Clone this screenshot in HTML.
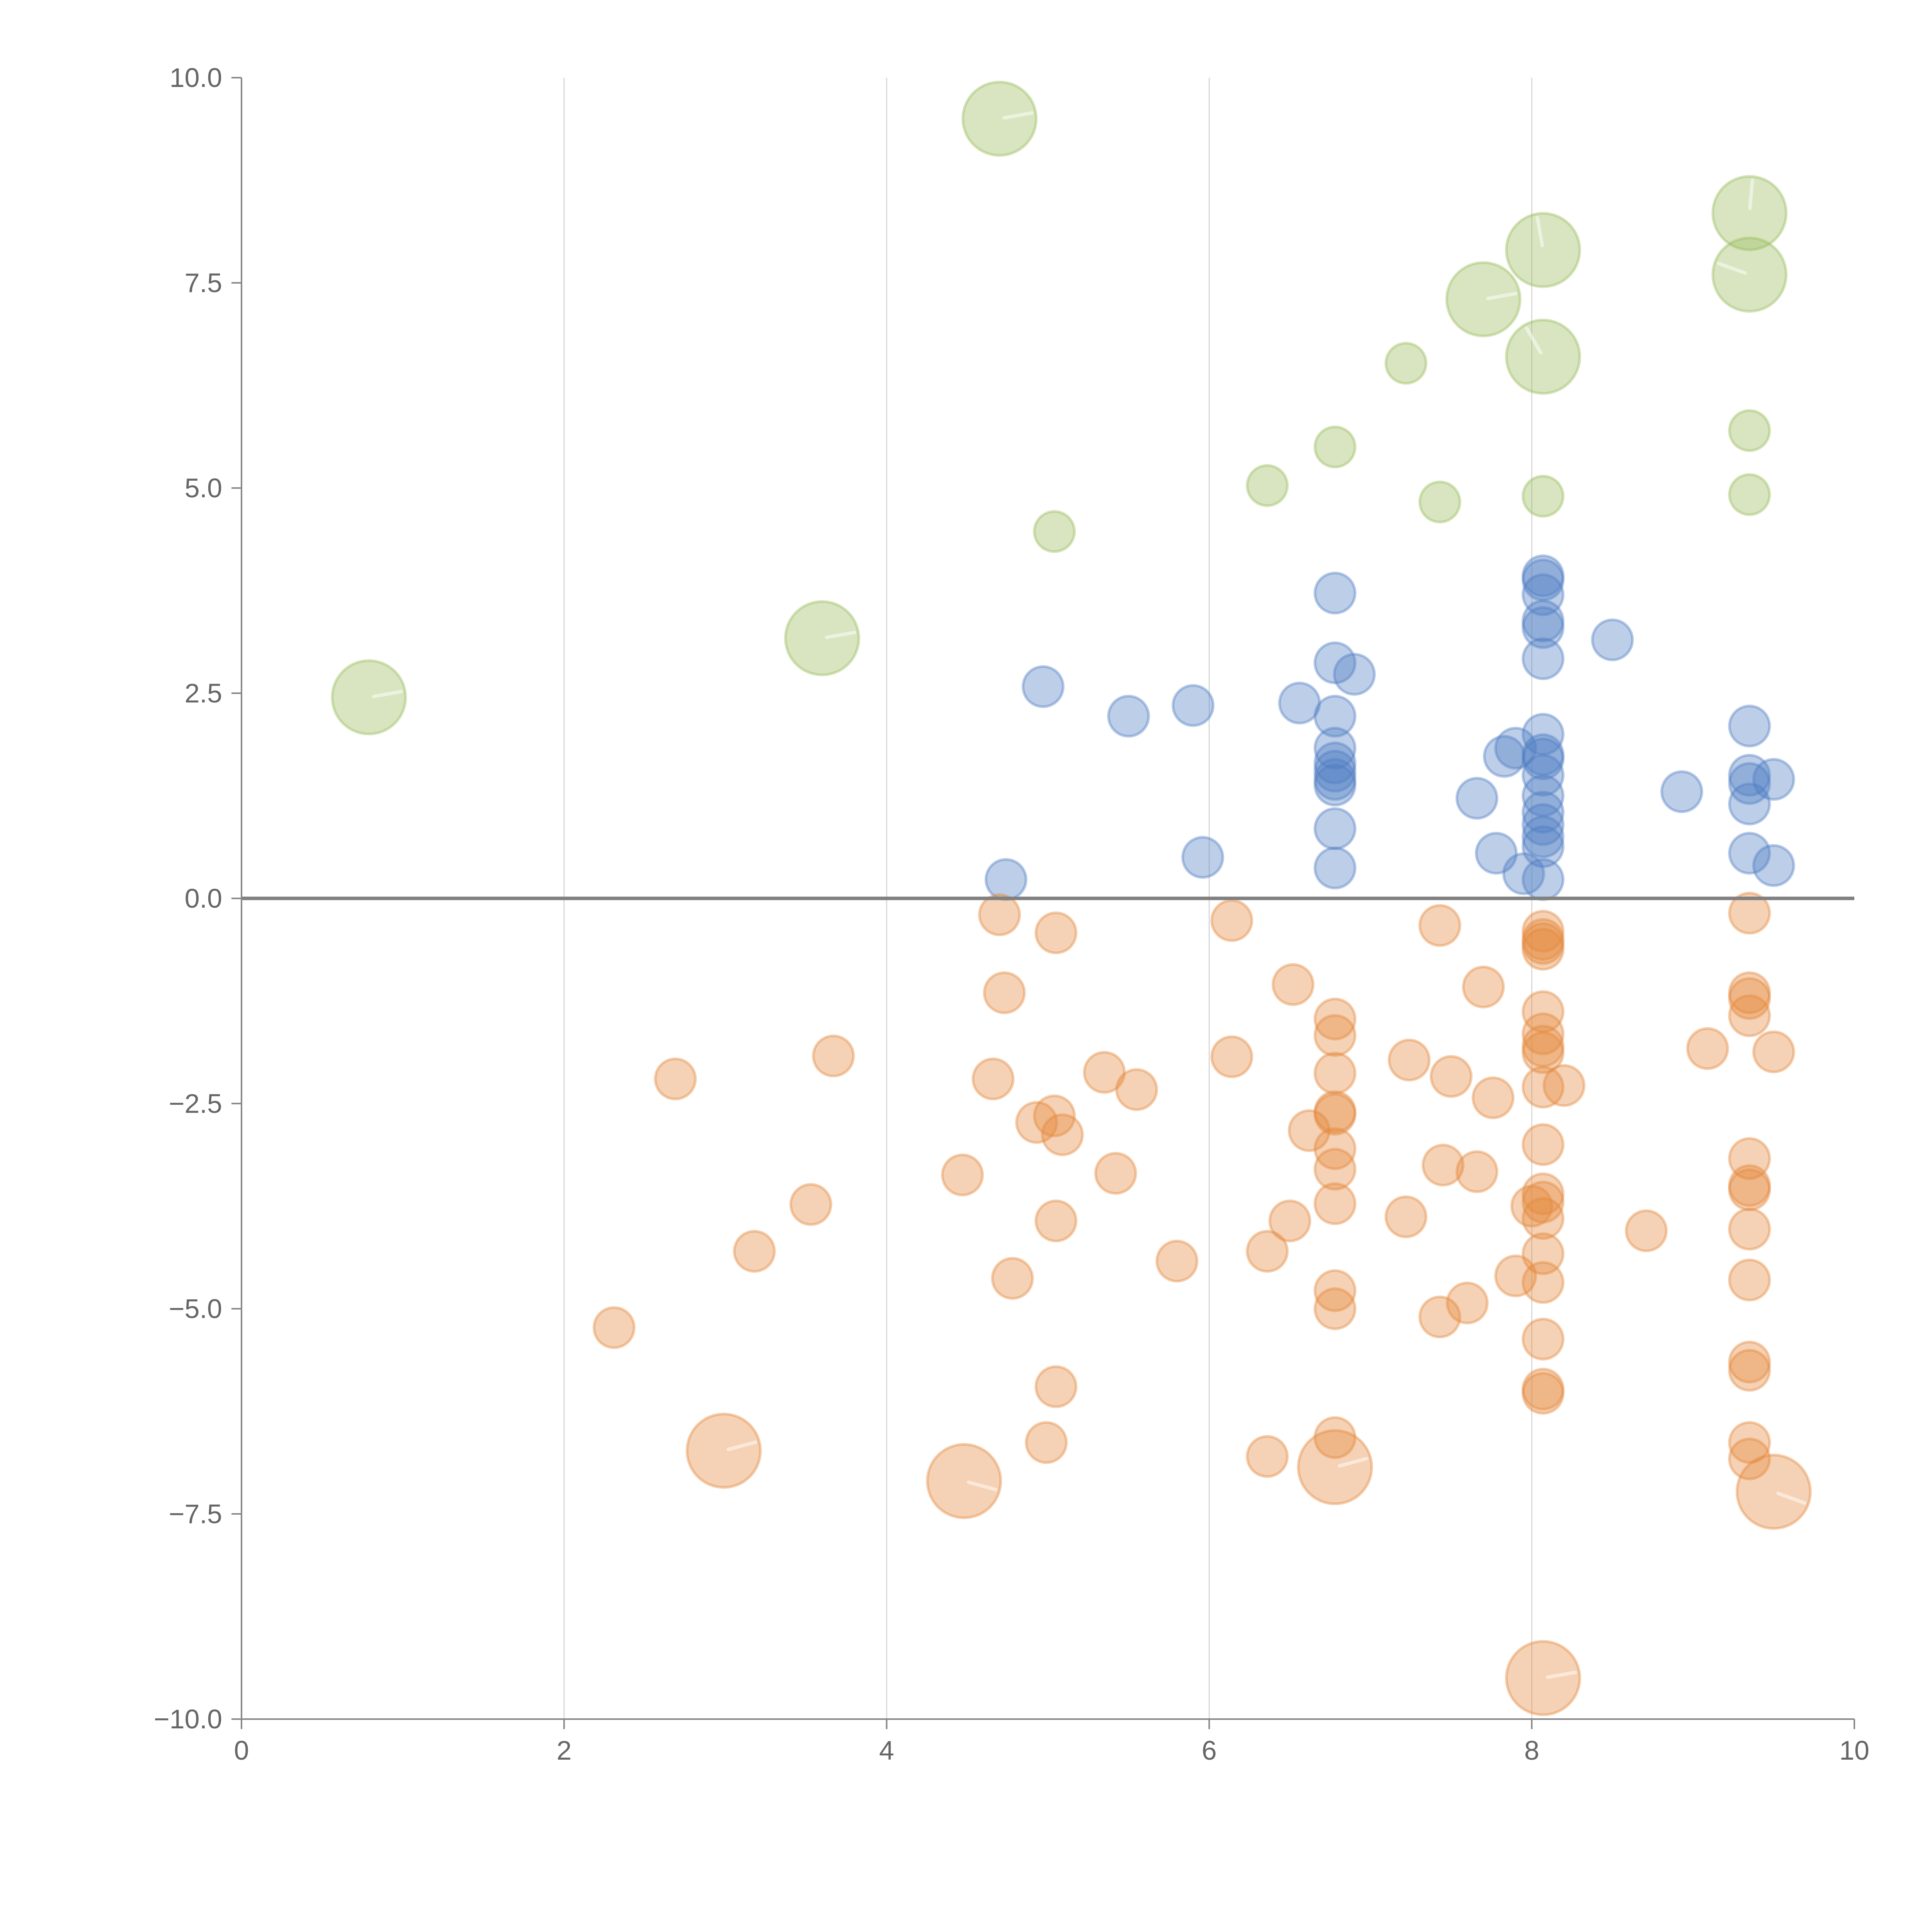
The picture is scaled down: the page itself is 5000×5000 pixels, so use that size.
<!DOCTYPE html>
<html><head><meta charset="utf-8"><style>body{margin:0;background:#fff}svg{display:block}text{font-family:"Liberation Sans",sans-serif;fill:#666;font-size:70px}</style></head>
<body>
<svg id="chart" width="5000" height="5000" viewBox="0 0 5000 5000" xmlns="http://www.w3.org/2000/svg">
<g id="grid"></g>
<g id="marks"></g>
<g id="axes"></g>
</svg>
<script>
const xTicks=[0,2,4,6,8,10];
const yTicks=[10,7.5,5,2.5,0,-2.5,-5,-7.5,-10];
const yTickLabels=["10.0","7.5","5.0","2.5","0.0","\u22122.5","\u22125.0","\u22127.5","\u221210.0"];
const greenX=[4.7,9.35,8.07,7.7,9.35,8.07,7.22,6.78,9.35,6.36,7.43,8.07,9.35,5.04,3.6,0.79];
const greenY=[9.5,8.35,7.9,7.3,7.6,6.6,6.52,5.5,5.7,5.03,4.83,4.9,4.92,4.47,3.17,2.45];
const greenBig=[1,1,1,1,1,1,0,0,0,0,0,0,0,0,1,1];
const blueX=[8.07,8.07,8.07,6.78,8.07,8.07,8.5,8.07,6.78,6.9,4.97,5.5,5.9,6.56,6.78,9.35,8.07,6.78,7.9,7.83,8.07,8.07,6.78,6.78,6.78,6.78,8.07,9.35,9.5,9.35,8.93,8.07,7.66,9.35,8.07,8.07,6.78,8.07,8.07,7.78,9.35,5.96,9.5,6.78,7.95,8.07,4.74];
const blueY=[3.93,3.88,3.7,3.72,3.38,3.3,3.15,2.92,2.87,2.73,2.58,2.22,2.35,2.38,2.22,2.1,2.0,1.83,1.83,1.73,1.75,1.7,1.65,1.55,1.45,1.38,1.5,1.5,1.45,1.4,1.3,1.25,1.22,1.15,1.05,0.9,0.85,0.75,0.63,0.55,0.55,0.5,0.4,0.37,0.3,0.23,0.23];
const orangeX=[4.7,5.05,6.14,7.43,9.35,8.07,8.07,8.07,8.07,6.52,7.7,4.73,9.35,9.35,9.35,8.07,6.78,8.07,6.78,8.07,8.07,9.09,9.5,3.67,6.14,7.24,6.78,5.35,7.5,2.69,4.66,8.07,8.2,5.55,7.76,6.78,6.78,5.04,4.93,5.09,6.62,8.07,6.78,9.35,7.45,6.78,4.47,5.42,7.66,9.35,9.35,8.07,8.07,8.0,3.53,6.78,8.07,7.22,6.5,5.05,8.71,9.35,3.18,6.36,8.07,5.8,4.78,7.9,8.07,9.35,6.78,7.6,6.78,7.43,2.31,8.07,9.35,9.35,5.05,8.07,8.07,4.99,9.35,6.78,6.36,9.35,2.99,4.48,6.78,9.5,8.07];
const orangeY=[-0.2,-0.42,-0.27,-0.33,-0.18,-0.4,-0.5,-0.55,-0.62,-1.05,-1.08,-1.15,-1.15,-1.22,-1.43,-1.38,-1.47,-1.65,-1.67,-1.8,-1.88,-1.83,-1.87,-1.92,-1.93,-1.97,-2.13,-2.12,-2.17,-2.2,-2.2,-2.3,-2.28,-2.33,-2.43,-2.6,-2.63,-2.65,-2.73,-2.88,-2.83,-3.0,-3.05,-3.17,-3.25,-3.3,-3.37,-3.35,-3.33,-3.5,-3.55,-3.6,-3.7,-3.75,-3.73,-3.72,-3.9,-3.88,-3.93,-3.93,-4.05,-4.03,-4.3,-4.3,-4.33,-4.42,-4.63,-4.6,-4.68,-4.65,-4.78,-4.93,-5.0,-5.1,-5.23,-5.37,-5.65,-5.75,-5.95,-5.98,-6.03,-6.63,-6.63,-6.57,-6.8,-6.83,-6.73,-7.1,-6.93,-7.23,-9.5];
const orangeBig=orangeX.map((_,i)=>i>=orangeX.length-5?1:0);
// marker angles (degrees) for big bubbles
const greenAngles=[-10,-85,-100,-10,-160,-120,0,0,0,0,0,0,0,0,0,0];
const orangeAngles={86:-15,87:15,88:-15,89:20,90:-10};

const NS="http://www.w3.org/2000/svg";
const X0=625,X1=4799,Y0=4449,Y1=201;
const sx=v=>X0+(v/10)*(X1-X0);
const sy=v=>Y0-((v+10)/20)*(Y0-Y1);
function mk(t,a,p){const e=document.createElementNS(NS,t);for(const k in a)e.setAttribute(k,a[k]);p.appendChild(e);return e;}
const grid=document.getElementById('grid'),marks=document.getElementById('marks'),axes=document.getElementById('axes');
[2,4,6,8].forEach(v=>{const l=mk('line',{x1:sx(v),x2:sx(v),y1:Y1,y2:Y0,stroke:'#d8d8d8','stroke-width':3},grid);

});
function series(xs,ys,big,fill,name,angleOf){
 xs.forEach((x,i)=>{const r=big&&big[i]?95:52;
  const c=mk('circle',{cx:sx(x),cy:sy(ys[i]),r:r,fill:fill,'fill-opacity':0.38,stroke:fill,'stroke-opacity':0.4,'stroke-width':7},marks);
  
  
  if(big&&big[i]){const a=(angleOf(i)||-10)*Math.PI/180;const cx=sx(x),cy=sy(ys[i]);
  const l=mk('line',{x1:cx+12*Math.cos(a),y1:cy+12*Math.sin(a),x2:cx+85*Math.cos(a),y2:cy+85*Math.sin(a),stroke:'#fff','stroke-opacity':0.5,'stroke-width':9,'stroke-linecap':'round'},marks);
  
  }
 });
}
series(greenX,greenY,greenBig,'#98bb5a','green',i=>greenAngles[i]);
series(blueX,blueY,null,'#4f7ec3','blue',()=>0);
series(orangeX,orangeY,orangeBig,'#e4883c','orange',i=>orangeAngles[i]);
const z=mk('line',{x1:X0,x2:X1,y1:sy(0),y2:sy(0),stroke:'#808080','stroke-width':9},axes);


const ya=mk('line',{x1:X0,x2:X0,y1:Y1,y2:Y0,stroke:'#888','stroke-width':4},axes);


const xa=mk('line',{x1:X0,x2:X1,y1:Y0,y2:Y0,stroke:'#888','stroke-width':4},axes);


yTicks.forEach((v,i)=>{const t=mk('line',{x1:X0-26,x2:X0,y1:sy(v),y2:sy(v),stroke:'#888','stroke-width':4},axes);


const tx=mk('text',{x:X0-50,y:sy(v)+24,'text-anchor':'end'},axes);tx.textContent=yTickLabels[i];

});
xTicks.forEach(v=>{const t=mk('line',{x1:sx(v),x2:sx(v),y1:Y0,y2:Y0+26,stroke:'#888','stroke-width':4},axes);


const tx=mk('text',{x:sx(v),y:Y0+105,'text-anchor':'middle'},axes);tx.textContent=String(v);

});
</script>
</body></html>
